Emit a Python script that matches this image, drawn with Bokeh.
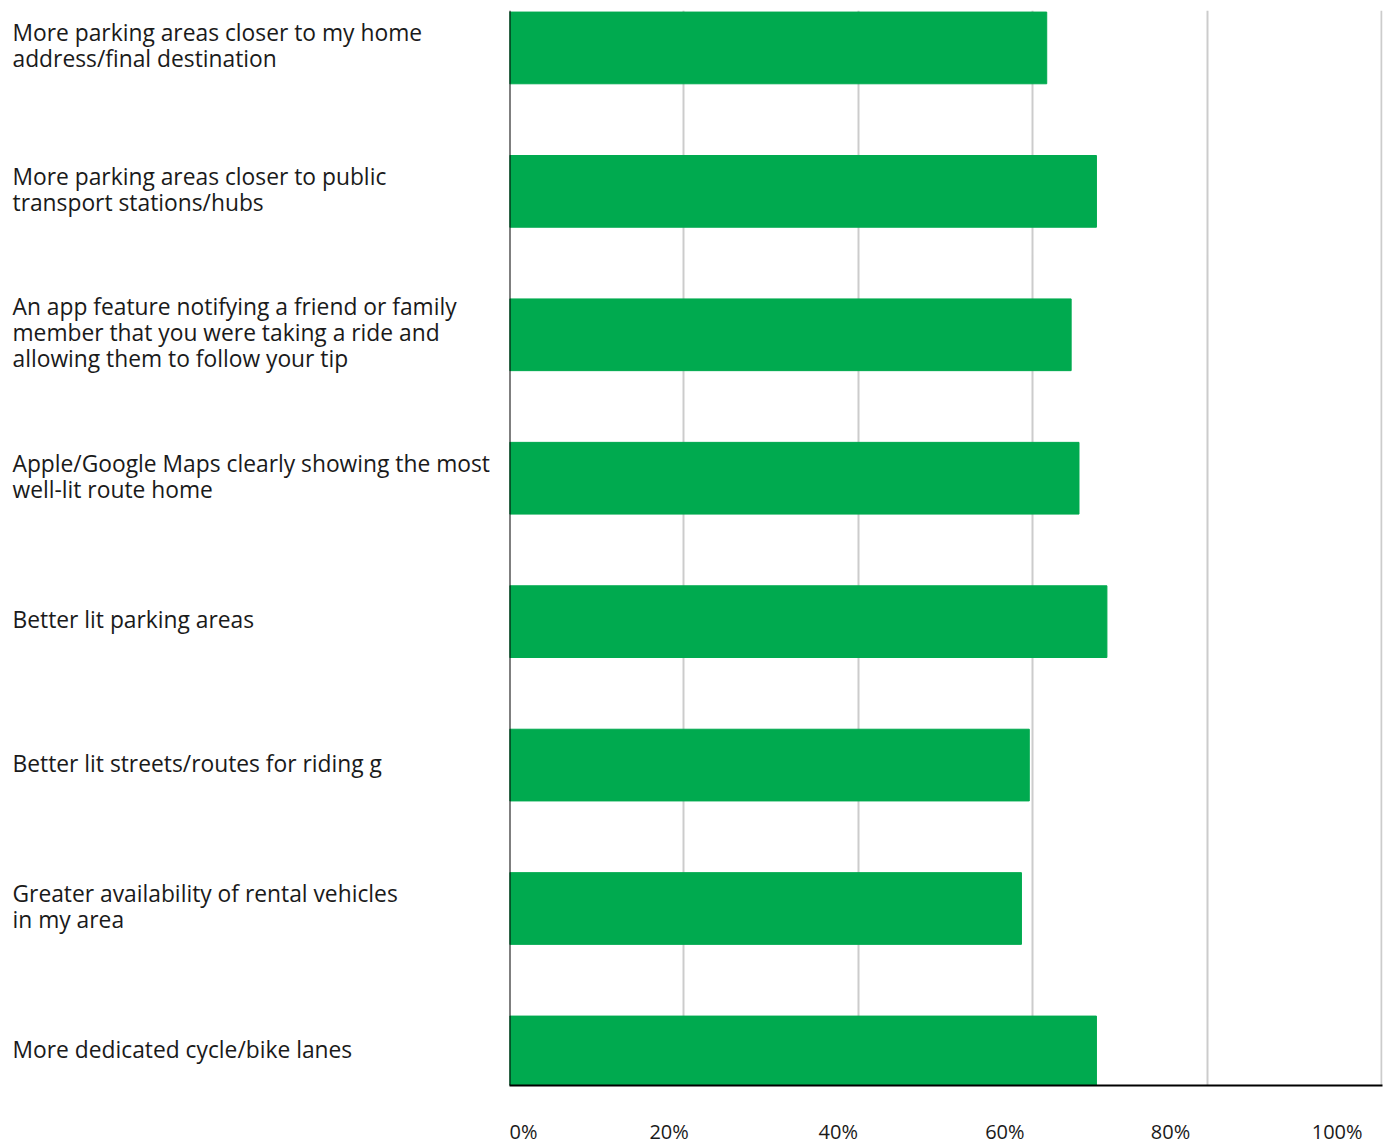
from bokeh.plotting import figure
from bokeh.models import Range1d, FixedTicker, Span
from bokeh.layouts import row
from bokeh.embed import file_html
from bokeh.resources import INLINE
from bokeh.core.properties import value

categories = [
    "More parking areas closer to my home\naddress/final destination",
    "More parking areas closer to public\ntransport stations/hubs",
    "An app feature notifying a friend or family\nmember that you were taking a ride and\nallowing them to follow your tip",
    "Apple/Google Maps clearly showing the most\nwell-lit route home",
    "Better lit parking areas",
    "Better lit streets/routes for riding g",
    "Greater availability of rental vehicles\nin my area",
    "More dedicated cycle/bike lanes",
]
values = [61.6, 67.3, 64.4, 65.3, 68.5, 59.6, 58.7, 67.3]
tick_values = [0, 20, 40, 60, 80, 100]
tick_labels = ["0%", "20%", "40%", "60%", "80%", "100%"]
# where the reference prints its tick labels (slightly off the grid lines)
tick_label_pos = [0.4, 18.3, 37.7, 56.8, 75.8, 94.9]

FONT = "Open Sans"
GREEN = "#00AA4F"
TEXT = "#1a1a1a"

n = len(categories)
idx = list(range(n))
y_range = Range1d(start=n - 1 + 0.234, end=-0.261)

# label column
left = figure(width=509, height=1147, x_range=Range1d(0, 509), y_range=y_range,
              output_backend="svg", toolbar_location=None,
              min_border_left=0, min_border_right=0, min_border_top=10, min_border_bottom=62,
              outline_line_color=None, x_axis_location=None, y_axis_location=None)
left.grid.visible = False
left.text(x=0, y=idx, text=categories, x_offset=12, y_offset=-2,
          text_font=value(FONT), text_font_size="22.8px", text_align="left",
          text_baseline="middle", text_line_height=0.84, text_color=TEXT)

# bar chart
p = figure(width=881, height=1147, x_range=Range1d(0, 100.1), y_range=y_range,
           output_backend="svg", toolbar_location=None,
           min_border_left=0, min_border_right=8, min_border_top=10, min_border_bottom=62,
           outline_line_color=None, y_axis_location=None)
p.hbar(y=idx, left=0, right=values, height=0.5, color=GREEN)

p.xaxis.ticker = FixedTicker(ticks=tick_label_pos)
p.xaxis.major_label_overrides = {pos: lab for pos, lab in zip(tick_label_pos, tick_labels)}
p.xaxis.axis_line_color = "black"
p.xaxis.axis_line_width = 2
p.xaxis.major_tick_line_color = None
p.xaxis.minor_tick_line_color = None
p.xaxis.major_label_standoff = 26
p.xaxis.major_label_text_font = FONT
p.xaxis.major_label_text_font_size = "20px"
p.xaxis.major_label_text_color = TEXT

p.xgrid.ticker = FixedTicker(ticks=tick_values[1:])
p.xgrid.grid_line_color = "#cccccc"
p.xgrid.grid_line_width = 2
p.ygrid.visible = False

p.add_layout(Span(location=0, dimension="height", line_color="black", line_width=2))

layout = row(left, p)
open("out.html", "w").write(file_html(layout, INLINE))
